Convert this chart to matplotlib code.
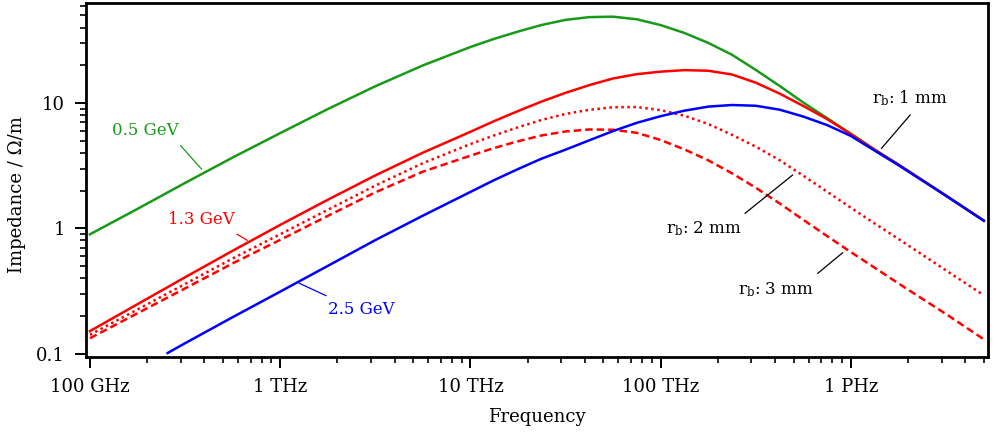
import matplotlib
matplotlib.use("Agg")
import matplotlib.pyplot as plt
from matplotlib.ticker import LogLocator, FixedLocator, FixedFormatter, NullFormatter

plt.rcParams['font.family'] = ['DejaVu Serif']
plt.rcParams['mathtext.fontset'] = 'dejavuserif'

# frequency grid in Hz (shared by most curves)
freq = [1e11, 1.78e11, 3.16e11, 5.62e11, 1e12, 1.78e12, 3.16e12, 5.62e12,
        1e13, 1.33e13, 1.78e13, 2.37e13, 3.16e13, 4.22e13, 5.62e13, 7.5e13,
        1e14, 1.33e14, 1.78e14, 2.37e14, 3.16e14, 4.22e14, 5.62e14, 7.5e14,
        1e15, 1.33e15, 1.78e15, 3.16e15, 5e15]

# 0.5 GeV, r_b = 1 mm
z_05 = [0.895, 1.43, 2.30, 3.67, 5.75, 8.95, 13.6, 19.95, 28.0, 32.5, 37.2,
        42.0, 46.1, 48.5, 48.9, 46.6, 41.9, 36.3, 30.2, 24.3, 18.4, 13.7,
        10.1, 7.57, 5.69, 4.27, 3.23, 1.83, 1.15]

# 1.3 GeV, r_b = 1, 2, 3 mm
z_13_r1 = [0.151, 0.248, 0.406, 0.661, 1.064, 1.69, 2.64, 4.01, 5.89, 7.16,
           8.63, 10.28, 12.05, 13.9, 15.7, 17.0, 17.8, 18.3, 18.1, 16.9,
           14.55, 11.9, 9.48, 7.45, 5.65, 4.24, 3.22, 1.82, 1.15]
z_13_r2 = [0.141, 0.225, 0.359, 0.574, 0.896, 1.405, 2.19, 3.31, 4.70, 5.51,
           6.40, 7.33, 8.18, 8.83, 9.25, 9.29, 8.78, 7.93, 6.80, 5.58, 4.49,
           3.50, 2.63, 1.96, 1.46, 1.096, 0.822, 0.462, 0.292]
z_13_r3 = [0.1325, 0.21, 0.331, 0.524, 0.808, 1.256, 1.934, 2.83, 3.80, 4.37,
           4.95, 5.51, 5.93, 6.15, 6.12, 5.78, 5.07, 4.27, 3.49, 2.75, 2.11,
           1.58, 1.17, 0.867, 0.646, 0.486, 0.363, 0.207, 0.130]

# 2.5 GeV, r_b = 1 mm (starts where it enters the plot range)
freq_25 = [2.56e11] + freq[2:]
z_25 = [0.101, 0.1208, 0.195, 0.312, 0.501, 0.804, 1.26, 1.95, 2.42, 2.97,
        3.60, 4.24, 5.04, 5.97, 6.95, 7.85, 8.68, 9.36, 9.64, 9.51, 8.85,
        7.80, 6.67, 5.46, 4.18, 3.19, 1.82, 1.15]

xticks = [1e11, 1e12, 1e13, 1e14, 1e15]
xticklabels = ['100 GHz', '1 THz', '10 THz', '100 THz', '1 PHz']
yticks = [0.1, 1, 10]
yticklabels = ['0.1', '1', '10']

green = '#179a17'
red = '#ff0000'
blue = '#0000ff'

fig = plt.figure(figsize=(10.01, 4.38), dpi=100)
ax = fig.add_axes([0.0859, 0.185, 0.9011, 0.808])

line_kw = dict(lw=1.8, solid_joinstyle='round', dash_joinstyle='round')
ax.plot(freq, z_05, color=green, **line_kw)
ax.plot(freq, z_13_r1, color=red, **line_kw)
ax.plot(freq, z_13_r2, color=red, linestyle=(0, (1, 1.4)), **line_kw)
ax.plot(freq, z_13_r3, color=red, linestyle=(0, (3, 1.6)), **line_kw)
ax.plot(freq_25, z_25, color=blue, **line_kw)

ax.set_xscale('log')
ax.set_yscale('log')
ax.set_xlim(9.53e10, 5.26e15)
ax.set_ylim(0.0939, 62.8)

ax.xaxis.set_major_locator(FixedLocator(xticks))
ax.xaxis.set_major_formatter(FixedFormatter(xticklabels))
ax.xaxis.set_minor_locator(LogLocator(base=10, subs=range(2, 10), numticks=20))
ax.xaxis.set_minor_formatter(NullFormatter())
ax.yaxis.set_major_locator(FixedLocator(yticks))
ax.yaxis.set_major_formatter(FixedFormatter(yticklabels))
ax.yaxis.set_minor_locator(LogLocator(base=10, subs=range(2, 10), numticks=20))
ax.yaxis.set_minor_formatter(NullFormatter())

ax.tick_params(which='major', direction='out', length=8, width=1.4,
               labelsize=13, pad=7)
ax.tick_params(which='minor', direction='out', length=4.5, width=1.2)
for s in ax.spines.values():
    s.set_linewidth(2)

ax.set_xlabel('Frequency', fontsize=13)
ax.set_ylabel('Impedance / Ω/m', fontsize=13)
ax.xaxis.set_label_coords(0.5, -0.145)
ax.yaxis.set_label_coords(-0.066, 0.46)

# curve labels with short leader lines
ax.text(1.95e11, 5.98, '0.5 GeV', color=green, fontsize=12, ha='center', va='center')
ax.plot([3.0e11, 3.86e11], [4.56, 2.97], color=green, lw=0.9)
ax.text(3.85e11, 1.176, '1.3 GeV', color=red, fontsize=12, ha='center', va='center')
ax.plot([5.94e11, 6.71e11], [0.896, 0.802], color=red, lw=0.9)
ax.text(2.67e12, 0.223, '2.5 GeV', color=blue, fontsize=12, ha='center', va='center')
ax.plot([1.26e12, 1.74e12], [0.364, 0.29], color=blue, lw=0.9)

ax.text(2.05e15, 10.96, r'r$_{\mathrm{b}}$: 1 mm', fontsize=12, ha='center', va='center')
ax.plot([2.05e15, 1.45e15], [8.02, 4.35], color='black', lw=0.9)
ax.text(1.68e14, 1.0, r'r$_{\mathrm{b}}$: 2 mm', fontsize=12, ha='center', va='center')
ax.plot([2.78e14, 4.94e14], [1.317, 2.66], color='black', lw=0.9)
ax.text(4.04e14, 0.322, r'r$_{\mathrm{b}}$: 3 mm', fontsize=12, ha='center', va='center')
ax.plot([6.7e14, 9.06e14], [0.437, 0.638], color='black', lw=0.9)

fig.savefig('out.png', dpi=100)
